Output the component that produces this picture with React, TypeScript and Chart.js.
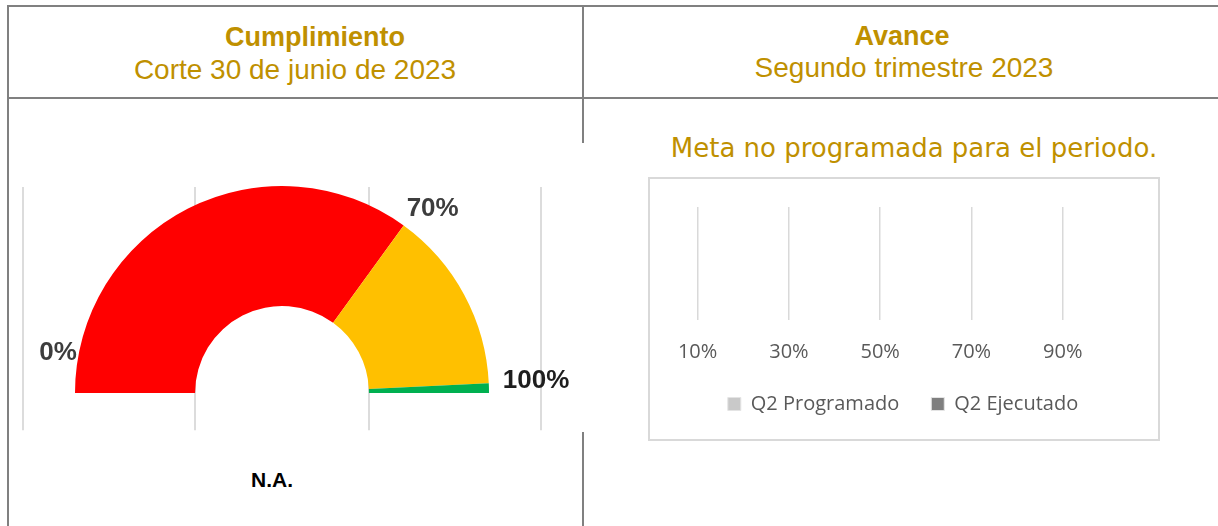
import React, { useEffect, useRef } from 'react';
import { Chart, registerables } from 'chart.js';

Chart.register(...registerables);

// ---- Gauge (Cumplimiento) ----
const gaugeSegments = ['Rojo', 'Amarillo', 'Verde'];
const gaugeValues = [70, 28.5, 1.5];
const gaugeColors = ['#FF0000', '#FFC000', '#00B050'];
const gaugeTicks = [0, 70, 100];
const gaugeTickLabels = ['0%', '70%', '100%'];

// ---- Avance chart ----
const avanceCategories = ['Q2'];
const avanceSeries = ['Q2 Programado', 'Q2 Ejecutado'];
const programadoValues: (number | null)[] = [null];
const ejecutadoValues: (number | null)[] = [null];
const avanceTicks = [10, 30, 50, 70, 90];
const avanceMin = 0;
const avanceMax = 110;

const GOLD = '#BF9000';
const BORDER = '#808080';

const gaugeDecor = {
  id: 'gaugeDecor',
  beforeDatasetsDraw(chart: any) {
    const arc = chart.getDatasetMeta(0).data[0];
    if (!arc) return;
    const { x, y, innerRadius, outerRadius } = arc.getProps(['x', 'y', 'innerRadius', 'outerRadius'], true);
    const ctx = chart.ctx;
    ctx.save();
    ctx.strokeStyle = '#dcdcdc';
    ctx.lineWidth = 2;
    [-2.98, -1, 1, 2.98].forEach((k) => {
      const gx = Math.round(x + k * innerRadius);
      ctx.beginPath();
      ctx.moveTo(gx, y - outerRadius + 1);
      ctx.lineTo(gx, y + outerRadius * 0.18);
      ctx.stroke();
    });
    ctx.restore();
  },
  afterDatasetsDraw(chart: any) {
    const arc = chart.getDatasetMeta(0).data[0];
    if (!arc) return;
    const { x, y, outerRadius } = arc.getProps(['x', 'y', 'outerRadius'], true);
    const ctx = chart.ctx;
    const offsets = [[-17, -40], [29, -17], [47, -12]];
    const colors = ['#3d3d3d', '#3d3d3d', '#1e1e1e'];
    ctx.save();
    ctx.font = 'bold 26px "Liberation Sans", Arial, sans-serif';
    ctx.textAlign = 'center';
    ctx.textBaseline = 'middle';
    gaugeTicks.forEach((v, i) => {
      const a = -Math.PI + (v / 100) * Math.PI;
      const px = x + outerRadius * Math.cos(a) + offsets[i][0];
      const py = y + outerRadius * Math.sin(a) + offsets[i][1];
      ctx.fillStyle = colors[i];
      ctx.fillText(gaugeTickLabels[i], px, py);
    });
    ctx.restore();
  },
};

function GaugeChart() {
  const ref = useRef<HTMLCanvasElement | null>(null);
  useEffect(() => {
    if (!ref.current) return;
    const chart = new Chart(ref.current, {
      type: 'doughnut',
      data: {
        labels: gaugeSegments,
        datasets: [
          {
            data: gaugeValues,
            backgroundColor: gaugeColors,
            borderWidth: 0,
          },
        ],
      },
      options: {
        animation: false,
        responsive: true,
        maintainAspectRatio: false,
        rotation: -90,
        circumference: 180,
        cutout: '42%',
        layout: { padding: { left: 55, right: 97, top: 43, bottom: 39 } },
        plugins: { legend: { display: false }, tooltip: { enabled: false } },
      },
      plugins: [gaugeDecor],
    });
    return () => chart.destroy();
  }, []);
  return (
    <div style={{ position: 'absolute', left: 20, top: 143, width: 566, height: 289, background: '#fff' }}>
      <canvas ref={ref} />
    </div>
  );
}

function AvanceChart() {
  const ref = useRef<HTMLCanvasElement | null>(null);
  useEffect(() => {
    if (!ref.current) return;
    const chart = new Chart(ref.current, {
      type: 'bar',
      data: {
        labels: avanceCategories,
        datasets: [
          {
            label: avanceSeries[0],
            data: programadoValues,
            backgroundColor: '#c9c9c9',
            borderColor: '#e4e4e4',
            borderWidth: 1,
          },
          {
            label: avanceSeries[1],
            data: ejecutadoValues,
            backgroundColor: '#7f7f7f',
            borderColor: '#e4e4e4',
            borderWidth: 1,
          },
        ],
      },
      options: {
        animation: false,
        responsive: true,
        maintainAspectRatio: false,
        indexAxis: 'y',
        layout: { padding: { left: 2, right: 4, top: 28, bottom: 15 } },
        scales: {
          y: { display: false },
          x: {
            type: 'linear',
            min: avanceMin,
            max: avanceMax,
            afterBuildTicks: (scale: any) => {
              scale.ticks = avanceTicks.map((v) => ({ value: v }));
            },
            afterFit: (scale: any) => {
              scale.height = 42;
            },
            border: { display: false },
            grid: { color: '#d9d9d9', lineWidth: 1.5, drawTicks: false },
            ticks: {
              padding: 20,
              color: '#595959',
              font: { family: '"Open Sans", sans-serif', size: 20 },
              callback: (v: any) => v + '%',
            },
          },
        },
        plugins: {
          tooltip: { enabled: false },
          legend: {
            position: 'bottom',
            labels: {
              boxWidth: 13,
              boxHeight: 13,
              padding: 32,
              color: '#595959',
              font: { family: '"Open Sans", sans-serif', size: 20 },
            },
          },
        },
      },
    });
    return () => chart.destroy();
  }, []);
  return (
    <div style={{ position: 'absolute', left: 650, top: 179, width: 508, height: 260 }}>
      <canvas ref={ref} />
    </div>
  );
}

const line = (style: React.CSSProperties) => (
  <div style={{ position: 'absolute', background: BORDER, ...style }} />
);

const textBase: React.CSSProperties = {
  position: 'absolute',
  whiteSpace: 'nowrap',
  textAlign: 'center',
  lineHeight: 1,
  color: GOLD,
  fontFamily: '"Liberation Sans", Arial, sans-serif',
};

export default function App() {
  return (
    <div style={{ position: 'absolute', left: 0, top: 0, width: 1218, height: 526, background: '#fff', overflow: 'hidden' }}>
      {line({ left: 7, top: 5, width: 1211, height: 2 })}
      {line({ left: 7, top: 97, width: 1211, height: 2 })}
      {line({ left: 7, top: 5, width: 2, height: 521 })}
      {line({ left: 582, top: 5, width: 2, height: 521 })}

      <div style={{ ...textBase, left: 115, width: 400, top: 24, fontSize: 27, fontWeight: 'bold' }}>Cumplimiento</div>
      <div style={{ ...textBase, left: 95, width: 400, top: 56, fontSize: 28 }}>Corte 30 de junio de 2023</div>

      <div style={{ ...textBase, left: 702, width: 400, top: 23, fontSize: 27, fontWeight: 'bold' }}>Avance</div>
      <div style={{ ...textBase, left: 704, width: 400, top: 54, fontSize: 28 }}>Segundo trimestre 2023</div>

      <GaugeChart />

      <div style={{ ...textBase, color: '#000', left: 172, width: 200, top: 469, fontSize: 21, fontWeight: 'bold' }}>N.A.</div>

      <div style={{ ...textBase, fontFamily: '"DejaVu Sans", Verdana, sans-serif', left: 614, width: 600, top: 135, fontSize: 26 }}>
        Meta no programada para el periodo.
      </div>

      <div style={{ position: 'absolute', left: 648, top: 177, width: 512, height: 264, border: '2px solid #d9d9d9', boxSizing: 'border-box' }} />
      <AvanceChart />
    </div>
  );
}
